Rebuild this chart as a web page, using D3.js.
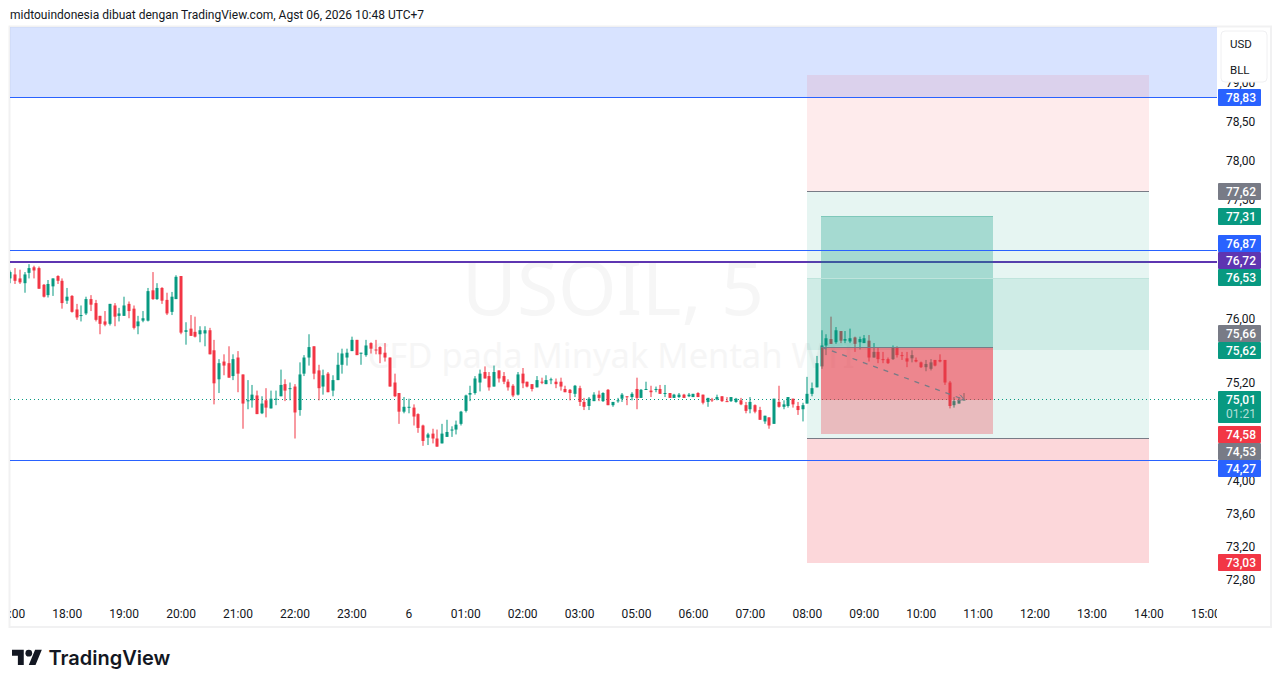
<!DOCTYPE html>
<html>

<head>
    <meta charset="utf-8">
    <script src="https://d3js.org/d3.v7.min.js"></script>
    <title>USOIL, 5</title>
    <style>
        body {
            margin: 0px;
            background: #fff;
        }

        svg {
            display: block;
            font-family: Roboto, sans-serif;
        }

        .domain {
            display: none;
        }

        .tick text {
            fill: #131722;
            font-size: 12px;
            font-family: Roboto, sans-serif;
        }
    </style>
</head>

<body>
    <svg width="1281" height="688"></svg>
    <script>
        // Candles (5 minute bars)
        const opens = [76.52, 76.57, 76.52, 76.46, 76.59, 76.66, 76.65, 76.44, 76.31, 76.42,
            76.55, 76.49, 76.24, 76.30, 76.13, 76.05, 76.08, 76.26, 76.21, 76.05,
            75.98, 75.95, 76.18, 76.05, 76.05, 76.20, 76.14, 75.92, 75.99, 75.99,
            76.37, 76.26, 76.40, 76.25, 76.10, 76.26, 76.55, 75.85, 75.89, 75.85,
            75.82, 75.83, 75.87, 75.62, 75.26, 75.48, 75.46, 75.30, 75.53, 75.32,
            74.99, 75.00, 75.06, 74.84, 75.00, 74.90, 75.01, 75.05, 75.20, 75.14,
            75.17, 74.88, 75.33, 75.53, 75.67, 75.37, 75.17, 75.33, 75.12, 75.25,
            75.44, 75.53, 75.61, 75.75, 75.58, 75.56, 75.71, 75.63, 75.66, 75.59,
            75.53, 75.22, 75.09, 74.86, 74.91, 74.91, 74.83, 74.69, 74.54, 74.59,
            74.53, 74.47, 74.55, 74.63, 74.64, 74.71, 74.87, 75.07, 75.09, 75.22,
            75.35, 75.30, 75.17, 75.37, 75.30, 75.23, 75.18, 75.07, 75.33, 75.23,
            75.20, 75.16, 75.23, 75.20, 75.25, 75.23, 75.23, 75.14, 75.13, 75.08,
            75.15, 74.98, 74.93, 74.99, 75.07, 74.99, 75.13, 74.94, 74.99, 75.02,
            75.05, 75.04, 75.14, 75.03, 75.13, 75.12, 75.13, 75.14, 75.08, 75.09,
            75.03, 75.04, 75.07, 75.05, 75.04, 75.09, 75.07, 74.98, 75.01, 75.01,
            75.05, 74.99, 74.99, 74.98, 75.00, 74.94, 74.89, 74.94, 74.88, 74.74,
            74.79, 74.71, 74.98, 74.92, 74.93, 75.02, 74.93, 74.89, 74.96, 75.08,
            75.16, 75.42, 75.68, 75.76, 75.72, 75.86, 75.74, 75.73, 75.78, 75.72,
            75.71, 75.74, 75.53, 75.60, 75.51, 75.51, 75.51, 75.65, 75.56, 75.52,
            75.52, 75.50, 75.47, 75.41, 75.39, 75.50, 75.50, 75.50, 75.22, 74.94,
            74.96, 75.01];
        const highs = [76.62, 76.65, 76.63, 76.60, 76.70, 76.68, 76.67, 76.45, 76.50, 76.52,
            76.56, 76.52, 76.40, 76.31, 76.20, 76.18, 76.29, 76.31, 76.25, 76.05,
            76.11, 76.20, 76.21, 76.15, 76.29, 76.23, 76.18, 76.05, 76.11, 76.40,
            76.60, 76.46, 76.41, 76.34, 76.35, 76.56, 76.55, 75.97, 76.06, 76.04,
            75.92, 75.92, 75.90, 75.75, 75.51, 75.57, 75.67, 75.57, 75.61, 75.32,
            75.25, 75.19, 75.12, 75.05, 75.15, 75.12, 75.12, 75.38, 75.26, 75.22,
            75.20, 75.47, 75.56, 75.82, 75.67, 75.44, 75.38, 75.35, 75.31, 75.59,
            75.64, 75.64, 75.79, 75.75, 75.59, 75.75, 75.72, 75.75, 75.67, 75.71,
            75.53, 75.33, 75.09, 75.04, 75.02, 74.95, 74.84, 74.70, 74.60, 74.65,
            74.64, 74.71, 74.76, 74.68, 74.75, 74.87, 75.07, 75.18, 75.30, 75.38,
            75.42, 75.35, 75.43, 75.37, 75.35, 75.26, 75.20, 75.35, 75.40, 75.23,
            75.20, 75.30, 75.28, 75.31, 75.28, 75.27, 75.28, 75.18, 75.14, 75.19,
            75.18, 75.03, 75.04, 75.10, 75.12, 75.10, 75.14, 74.98, 75.03, 75.09,
            75.05, 75.10, 75.28, 75.14, 75.23, 75.18, 75.17, 75.19, 75.19, 75.09,
            75.08, 75.09, 75.08, 75.09, 75.08, 75.10, 75.07, 75.03, 75.03, 75.07,
            75.05, 75.04, 75.04, 75.03, 75.03, 74.98, 75.04, 74.95, 74.92, 74.81,
            74.79, 75.02, 75.18, 75.00, 75.04, 75.02, 74.98, 74.97, 75.29, 75.22,
            75.55, 75.87, 75.82, 76.04, 75.91, 75.86, 75.86, 75.89, 75.79, 75.79,
            75.81, 75.81, 75.71, 75.65, 75.60, 75.53, 75.68, 75.67, 75.60, 75.60,
            75.62, 75.53, 75.48, 75.50, 75.51, 75.50, 75.57, 75.50, 75.24, 75.04,
            75.04, 75.09];
        const lows = [76.46, 76.45, 76.45, 76.34, 76.52, 76.52, 76.39, 76.28, 76.28, 76.30,
            76.45, 76.14, 76.20, 76.09, 76.00, 75.98, 76.06, 76.11, 75.98, 75.82,
            75.92, 75.93, 75.92, 75.98, 76.05, 76.02, 75.88, 75.82, 75.97, 75.98,
            76.25, 76.25, 76.20, 76.06, 76.06, 76.26, 75.82, 75.69, 75.80, 75.78,
            75.72, 75.67, 75.57, 74.95, 75.09, 75.31, 75.28, 75.25, 75.10, 74.65,
            74.89, 74.91, 74.83, 74.83, 74.79, 74.90, 74.94, 75.05, 74.99, 75.00,
            74.53, 74.81, 75.30, 75.43, 75.26, 75.00, 75.07, 75.10, 75.05, 75.25,
            75.33, 75.43, 75.61, 75.56, 75.44, 75.54, 75.58, 75.57, 75.46, 75.48,
            75.17, 75.04, 74.71, 74.84, 74.84, 74.69, 74.60, 74.44, 74.45, 74.47,
            74.43, 74.47, 74.55, 74.55, 74.58, 74.69, 74.85, 74.99, 75.07, 75.11,
            75.27, 75.12, 75.17, 75.22, 75.20, 75.12, 75.04, 75.06, 75.15, 75.16,
            75.11, 75.16, 75.20, 75.20, 75.20, 75.15, 75.12, 75.10, 75.00, 75.04,
            74.93, 74.88, 74.88, 74.99, 74.99, 74.98, 74.94, 74.92, 74.97, 74.98,
            74.94, 75.00, 74.89, 75.03, 75.13, 75.04, 75.10, 75.08, 75.04, 75.03,
            75.03, 75.03, 75.03, 75.04, 75.04, 75.04, 74.95, 74.92, 74.98, 75.00,
            74.98, 74.98, 74.98, 74.97, 74.94, 74.84, 74.84, 74.84, 74.76, 74.71,
            74.65, 74.71, 74.91, 74.89, 74.91, 74.91, 74.82, 74.74, 74.96, 75.05,
            75.16, 75.39, 75.56, 75.70, 75.70, 75.71, 75.71, 75.71, 75.60, 75.63,
            75.71, 75.48, 75.53, 75.46, 75.46, 75.45, 75.50, 75.53, 75.50, 75.41,
            75.47, 75.47, 75.40, 75.36, 75.37, 75.42, 75.47, 75.19, 74.90, 74.91,
            74.96, 75.00];
        const closes = [76.60, 76.49, 76.47, 76.57, 76.65, 76.62, 76.39, 76.29, 76.45, 76.52,
            76.49, 76.21, 76.29, 76.10, 76.03, 76.06, 76.26, 76.19, 76.00, 75.95,
            75.94, 76.20, 76.04, 76.08, 76.18, 76.11, 75.90, 75.98, 76.02, 76.36,
            76.26, 76.40, 76.24, 76.08, 76.29, 76.54, 75.84, 75.87, 75.80, 75.79,
            75.87, 75.87, 75.57, 75.21, 75.46, 75.43, 75.28, 75.51, 75.33, 74.96,
            75.00, 75.07, 74.83, 74.96, 74.91, 75.02, 75.02, 75.19, 75.12, 75.15,
            74.85, 75.32, 75.53, 75.66, 75.33, 75.15, 75.31, 75.10, 75.25, 75.44,
            75.58, 75.59, 75.75, 75.56, 75.59, 75.68, 75.64, 75.62, 75.57, 75.53,
            75.17, 75.05, 74.86, 74.92, 74.92, 74.80, 74.66, 74.50, 74.58, 74.53,
            74.43, 74.59, 74.61, 74.64, 74.70, 74.86, 75.06, 75.09, 75.27, 75.33,
            75.27, 75.16, 75.35, 75.27, 75.23, 75.16, 75.06, 75.32, 75.21, 75.17,
            75.14, 75.25, 75.22, 75.25, 75.26, 75.20, 75.17, 75.10, 75.09, 75.18,
            74.98, 74.92, 75.02, 75.07, 75.03, 75.09, 74.94, 74.98, 75.00, 75.07,
            75.04, 75.08, 75.03, 75.13, 75.14, 75.10, 75.14, 75.08, 75.09, 75.03,
            75.07, 75.07, 75.03, 75.07, 75.08, 75.04, 74.97, 75.03, 75.00, 75.04,
            74.99, 74.98, 75.04, 75.02, 74.95, 74.87, 74.98, 74.86, 74.76, 74.81,
            74.69, 75.02, 74.92, 74.95, 75.04, 74.95, 74.88, 74.94, 75.08, 75.15,
            75.46, 75.68, 75.77, 75.70, 75.87, 75.74, 75.76, 75.77, 75.70, 75.76,
            75.77, 75.53, 75.60, 75.51, 75.50, 75.46, 75.66, 75.56, 75.55, 75.48,
            75.56, 75.48, 75.41, 75.45, 75.47, 75.43, 75.48, 75.22, 74.93, 74.99,
            75.00, 75.01];

        const timeLabels = ['17:00', '18:00', '19:00', '20:00', '21:00', '22:00', '23:00', '6',
            '01:00', '02:00', '03:00', '05:00', '06:00', '07:00', '08:00', '09:00', '10:00',
            '11:00', '12:00', '13:00', '14:00', '15:00'];
        const barsPerLabel = 12;
        const priceTicks = [72.8, 73.2, 73.6, 74, 75.2, 76, 77.5, 78, 78.5, 79];

        // Price pills on the axis
        const pillPrices = [78.83, 77.62, 77.31, 76.87, 76.72, 76.53, 75.66, 75.62, 75.01, 74.58, 74.53, 74.27, 73.03];
        const pillKinds = ['blue', 'grey', 'green', 'blue', 'purple', 'green', 'grey', 'green', 'green', 'red', 'grey', 'blue', 'red'];

        // Drawn objects
        const lastPrice = 75.01;
        const countdown = '01:21';
        const zoneTopPrice = 80.5;
        const blueLines = [78.83, 76.86, 74.26];
        const purpleLine = 76.72;
        const outerBars = [168, 240];
        const innerBars = [171, 207];
        const outerLevels = { top: 79.12, stop: 77.62, target: 76.53, mid: 75.62, entry: 74.53, bottom: 73.02 };
        const innerLevels = { top: 77.31, entry: 75.66, bottom: 74.58 };
        const pathBars = [171, 201];
        const pathPrices = [75.66, 75.01];

        const pane = { left: 10, right: 1217, top: 27, bottom: 600, axisBottom: 627, axisRight: 1271 };
        const colors = { blue: '#2962ff', purple: '#5e35b1', green: '#089981', red: '#f23645', grey: '#787b86' };

        const svg = d3.select('svg');

        const x = d3.scaleLinear().domain([0, barsPerLabel]).range([10.3, 67.23]);
        const y = d3.scaleLog().domain([72.8, 78.5]).range([581.2, 123.2]);

        const defs = svg.append('defs');
        defs.append('clipPath').attr('id', 'paneClip').append('rect')
            .attr('x', pane.left).attr('y', pane.top)
            .attr('width', pane.right - pane.left).attr('height', pane.axisBottom - pane.top);
        defs.append('marker').attr('id', 'pathHead')
            .attr('viewBox', '0 0 10 10').attr('refX', 9).attr('refY', 5)
            .attr('markerWidth', 7).attr('markerHeight', 7).attr('markerUnits', 'userSpaceOnUse')
            .attr('orient', 'auto')
            .append('path').attr('d', 'M1 0L9 5L1 10').attr('fill', 'none')
            .attr('stroke', colors.grey).attr('stroke-width', 1.4);

        // Frame
        svg.append('rect')
            .attr('x', pane.left - 0.5).attr('y', pane.top - 0.5)
            .attr('width', pane.axisRight - pane.left + 0.5).attr('height', pane.axisBottom - pane.top + 0.5)
            .attr('fill', 'none').attr('stroke', '#f1f1f2').attr('stroke-width', 2);

        svg.append('text')
            .attr('x', 10).attr('y', 19)
            .attr('font-size', 12).attr('fill', '#131722')
            .text('midtouindonesia dibuat dengan TradingView.com, Agst 06, 2026 10:48 UTC+7');

        const g = svg.append('g').attr('clip-path', 'url(#paneClip)');

        // Watermark
        const mark = g.append('g').attr('text-anchor', 'middle').attr('fill', '#f6f6f6').attr('font-family', 'Noto Sans');
        mark.append('text').attr('x', 613).attr('y', 315).attr('font-size', 75).text('USOIL, 5');
        mark.append('text').attr('x', 611).attr('y', 368).attr('font-size', 34.5).text('CFD pada Minyak Mentah WTI');

        // Blue zone sits under the candles
        g.append('rect')
            .attr('x', pane.left).attr('width', pane.right - pane.left)
            .attr('y', y(zoneTopPrice)).attr('height', y(blueLines[0]) - y(zoneTopPrice))
            .attr('fill', colors.blue).attr('fill-opacity', 0.18);

        function level(x1, x2, price, color, width, dy = 0) {
            const py = (width % 2 ? Math.round(y(price)) - 0.5 : Math.floor(y(price))) + dy;
            g.append('line')
                .attr('x1', x1).attr('x2', x2)
                .attr('y1', py).attr('y2', py)
                .attr('stroke', color).attr('stroke-width', width);
        }

        // The purple level runs under the tools
        level(pane.left, pane.right, purpleLine, colors.purple, 2);

        // Last price dotted line
        g.append('line')
            .attr('x1', pane.left).attr('x2', pane.right)
            .attr('y1', y(lastPrice)).attr('y2', y(lastPrice))
            .attr('stroke', colors.green).attr('stroke-dasharray', '1,3');

        // Candles
        const candles = g.append('g').selectAll('g')
            .data(opens.map((o, i) => ({ i, o, h: highs[i], l: lows[i], c: closes[i] })))
            .join('g')
            .attr('fill', d => d.c >= d.o ? colors.green : colors.red);
        candles.append('rect')
            .attr('x', d => Math.round(x(d.i)) - 0.5).attr('width', 1)
            .attr('y', d => y(d.h)).attr('height', d => y(d.l) - y(d.h));
        candles.append('rect')
            .attr('x', d => Math.round(x(d.i)) - 1.5).attr('width', 3)
            .attr('y', d => y(Math.max(d.o, d.c)))
            .attr('height', d => Math.max(1, Math.abs(y(d.o) - y(d.c))));

        // Tools are painted over the candles
        function zone(bars, top, bottom, color, opacity) {
            const x0 = Math.floor(x(bars[0]));
            const x1 = Math.ceil(x(bars[1]));
            g.append('rect')
                .attr('x', x0).attr('width', x1 - x0)
                .attr('y', Math.round(y(top))).attr('height', Math.round(y(bottom)) - Math.round(y(top)))
                .attr('fill', color).attr('fill-opacity', opacity);
        }

        zone(outerBars, outerLevels.top, outerLevels.stop, colors.red, 0.1);
        zone(outerBars, outerLevels.stop, outerLevels.entry, colors.green, 0.1);
        zone(outerBars, outerLevels.target, outerLevels.mid, colors.green, 0.1);
        zone(outerBars, outerLevels.entry, outerLevels.bottom, colors.red, 0.2);

        zone(innerBars, innerLevels.top, innerLevels.entry, colors.green, 0.29);
        zone(innerBars, innerLevels.entry, innerLevels.bottom, colors.red, 0.3);
        zone(innerBars, innerLevels.entry, lastPrice, colors.red, 0.4);

        const outerX = [Math.floor(x(outerBars[0])), Math.ceil(x(outerBars[1]))];
        const innerX = [Math.floor(x(innerBars[0])), Math.ceil(x(innerBars[1]))];
        level(outerX[0], outerX[1], outerLevels.stop, colors.grey, 1);
        level(outerX[0], outerX[1], outerLevels.entry, colors.grey, 1);
        level(innerX[0], innerX[1], innerLevels.entry, colors.grey, 1, 1);
        level(innerX[0], innerX[1], innerLevels.top, '#7fc8ba', 1, 1);
        level(outerX[0], outerX[1], outerLevels.target, '#bfe4dc', 1, 1);

        g.append('line')
            .attr('x1', x(pathBars[0])).attr('y1', y(pathPrices[0]))
            .attr('x2', x(pathBars[1])).attr('y2', y(pathPrices[1]))
            .attr('stroke', colors.grey).attr('stroke-width', 1.3).attr('stroke-dasharray', '5,6')
            .attr('marker-end', 'url(#pathHead)');

        blueLines.forEach(p => level(pane.left, pane.right, p, colors.blue, 1));

        // Axes
        const yAxis = d3.axisRight(y)
            .tickValues(priceTicks)
            .tickSize(0)
            .tickPadding(9)
            .tickFormat(d => d3.format('.2f')(d).replace('.', ','));
        svg.append('g')
            .attr('transform', `translate(${pane.right},-1.5)`)
            .call(yAxis);

        const xAxis = d3.axisBottom(x)
            .tickValues(timeLabels.map((d, i) => i * barsPerLabel))
            .tickSize(0)
            .tickPadding(0)
            .tickFormat((d, i) => timeLabels[i]);
        svg.append('g')
            .attr('clip-path', 'url(#paneClip)')
            .append('g')
            .attr('transform', 'translate(-0.5,609)')
            .call(xAxis);

        // Pills, shifted apart where they would overlap
        const pillShift = { 76.87: -7, 76.72: -2, 75.66: -14, 74.53: 13, 74.27: 9 };
        const pills = svg.append('g').selectAll('g')
            .data(pillPrices.map((p, i) => ({ p, kind: pillKinds[i] })))
            .join('g')
            .attr('transform', d => `translate(${pane.right + 1},${Math.round(y(d.p) - 0.5 + (pillShift[d.p] || 0))})`);
        pills.append('rect')
            .attr('x', 0).attr('y', -8)
            .attr('width', 43)
            .attr('height', d => d.p === lastPrice ? 32 : 17)
            .attr('rx', 1)
            .attr('fill', d => colors[d.kind]);
        pills.append('text')
            .attr('x', 8).attr('y', 5)
            .attr('font-size', 12).attr('font-weight', 500).attr('fill', '#fff')
            .text(d => d3.format('.2f')(d.p).replace('.', ','));
        pills.filter(d => d.p === lastPrice).append('text')
            .attr('x', 8).attr('y', 19)
            .attr('font-size', 12).attr('fill', '#fff').attr('fill-opacity', 0.7)
            .text(countdown);

        // Currency and unit box
        svg.append('rect')
            .attr('x', 1221).attr('y', 31).attr('width', 46).attr('height', 51).attr('rx', 4)
            .attr('fill', '#fff').attr('stroke', '#f0f0f2');
        svg.append('text').attr('x', 1230).attr('y', 48).attr('font-size', 11.5).attr('fill', '#131722').text('USD');
        svg.append('text').attr('x', 1230).attr('y', 74).attr('font-size', 11.5).attr('fill', '#131722').text('BLL');

        // Logo
        const logo = svg.append('g').attr('fill', '#131722');
        const logoIcon = logo.append('g').attr('transform', 'translate(12,646.5) scale(0.84)');
        logoIcon.append('path').attr('d', 'M14 22H7V11H0V4h14v18zM28 22h-8l7.5-18h8L28 22z');
        logoIcon.append('circle').attr('cx', 20).attr('cy', 8).attr('r', 4);
        logo.append('text')
            .attr('x', 48.5).attr('y', 665)
            .attr('font-family', 'Inter').attr('font-size', 20).attr('font-weight', 600)
            .text('TradingView');
    </script>
</body>

</html>
